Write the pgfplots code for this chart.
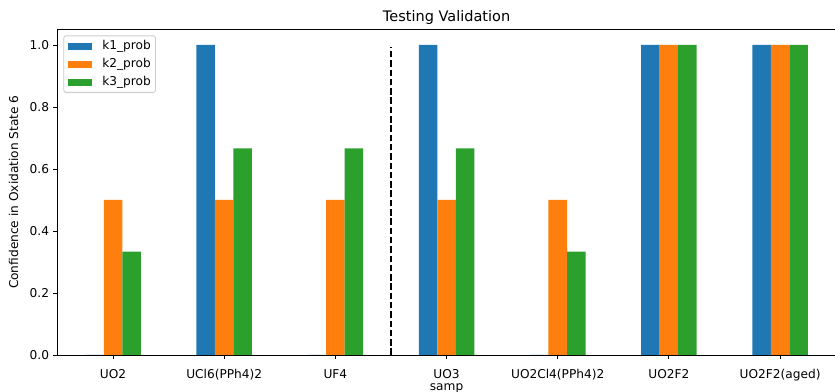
\documentclass[border=0pt]{standalone}
\usepackage{fontspec}
\setmainfont{DejaVu Sans}
\usepackage{pgfplots}
\usepackage{pgfplotstable}
\pgfplotsset{compat=1.18}

\definecolor{tabblue}{HTML}{1F77B4}
\definecolor{taborange}{HTML}{FF7F0E}
\definecolor{tabgreen}{HTML}{2CA02C}
\definecolor{legframe}{HTML}{CCCCCC}

% confidence per sample for each model
\pgfplotstableread{
x k1 k2 k3
0 0 0.5 0.3333
1 1 0.5 0.6667
2 0 0.5 0.6667
3 1 0.5 0.6667
4 0 0.5 0.3333
5 1 1.0 1.0
6 1 1.0 1.0
}\validation

\pgfplotsset{
  probbar/.style={ybar, bar width=0.16667, draw=none, fill=#1,
    legend image code/.code={\fill[#1, sharp corners] (0pt,-3pt) rectangle (20.5pt,3pt);}},
}

\begin{document}
\begin{tikzpicture}
\path[use as bounding box] (-49.1pt,-31.6pt) rectangle (664.8pt,303.5pt);
\begin{axis}[
  scale only axis,
  width=665.4pt, height=278.3pt,
  at={(0pt,0pt)}, anchor=south west,
  xmin=-0.5, xmax=6.5,
  ymin=0, ymax=1.05,
  axis line style={black, line width=0.8pt},
  tick style={black, line width=0.8pt},
  tick align=outside,
  major tick length=3.5pt,
  xtick pos=bottom, ytick pos=left,
  xtick={0,1,2,3,4,5,6},
  xticklabels={UO2, UCl6(PPh4)2, UF4, UO3, UO2Cl4(PPh4)2, UO2F2, UO2F2(aged)},
  ytick={0,0.2,0.4,0.6,0.8,1.0},
  yticklabel style={anchor=east, inner sep=0pt, xshift=-3.5pt,
    /pgf/number format/fixed, /pgf/number format/fixed zerofill,
    /pgf/number format/precision=1, /pgf/number format/assume math mode=true},
  xticklabel style={anchor=base, inner sep=0pt, yshift=-17pt},
  tick label style={font=\fontsize{10.4}{12.5}\selectfont},
  every axis title/.style={at={(axis description cs:0.5,1)}, anchor=base,
    yshift=6.6pt, inner sep=0pt, font=\fontsize{12.4}{14.9}\selectfont},
  every axis x label/.style={at={(axis description cs:0.5,0)}, anchor=base,
    yshift=-30.6pt, inner sep=0pt, font=\fontsize{10.4}{12.5}\selectfont},
  every axis y label/.style={at={(axis description cs:0,0.5)}, xshift=-33.7pt,
    rotate=90, anchor=base, inner sep=0pt, font=\fontsize{10.4}{12.5}\selectfont},
  title={Testing Validation},
  xlabel={samp},
  ylabel={Confidence in Oxidation State 6},
  legend cell align=left,
  legend style={at={(axis description cs:0,1)}, anchor=north west,
    xshift=5pt, yshift=-5pt,
    draw=legframe, line width=0.8pt, rounded corners=2pt, fill=white,
    inner xsep=4pt, inner ysep=3.8pt,
    font=\fontsize{10.4}{12.5}\selectfont,
    nodes={inner sep=0pt, text height=7.6pt, text depth=2.4pt},
    row sep=5.4pt,
    /tikz/every odd column/.append style={column sep=8.5pt}},
]
\addplot[probbar=tabblue, bar shift=-0.16667] table[x=x, y=k1] {\validation};
\addlegendentry{k1\_prob}
\addplot[probbar=taborange, bar shift=0] table[x=x, y=k2] {\validation};
\addlegendentry{k2\_prob}
\addplot[probbar=tabgreen, bar shift=0.16667] table[x=x, y=k3] {\validation};
\addlegendentry{k3\_prob}
% divider between the two sample groups
\addplot[black, line width=1.5pt, dash pattern=on 5.55pt off 2.4pt, forget plot]
  coordinates {(2.5,0) (2.5,0.995)};
\end{axis}
\end{tikzpicture}
\end{document}
